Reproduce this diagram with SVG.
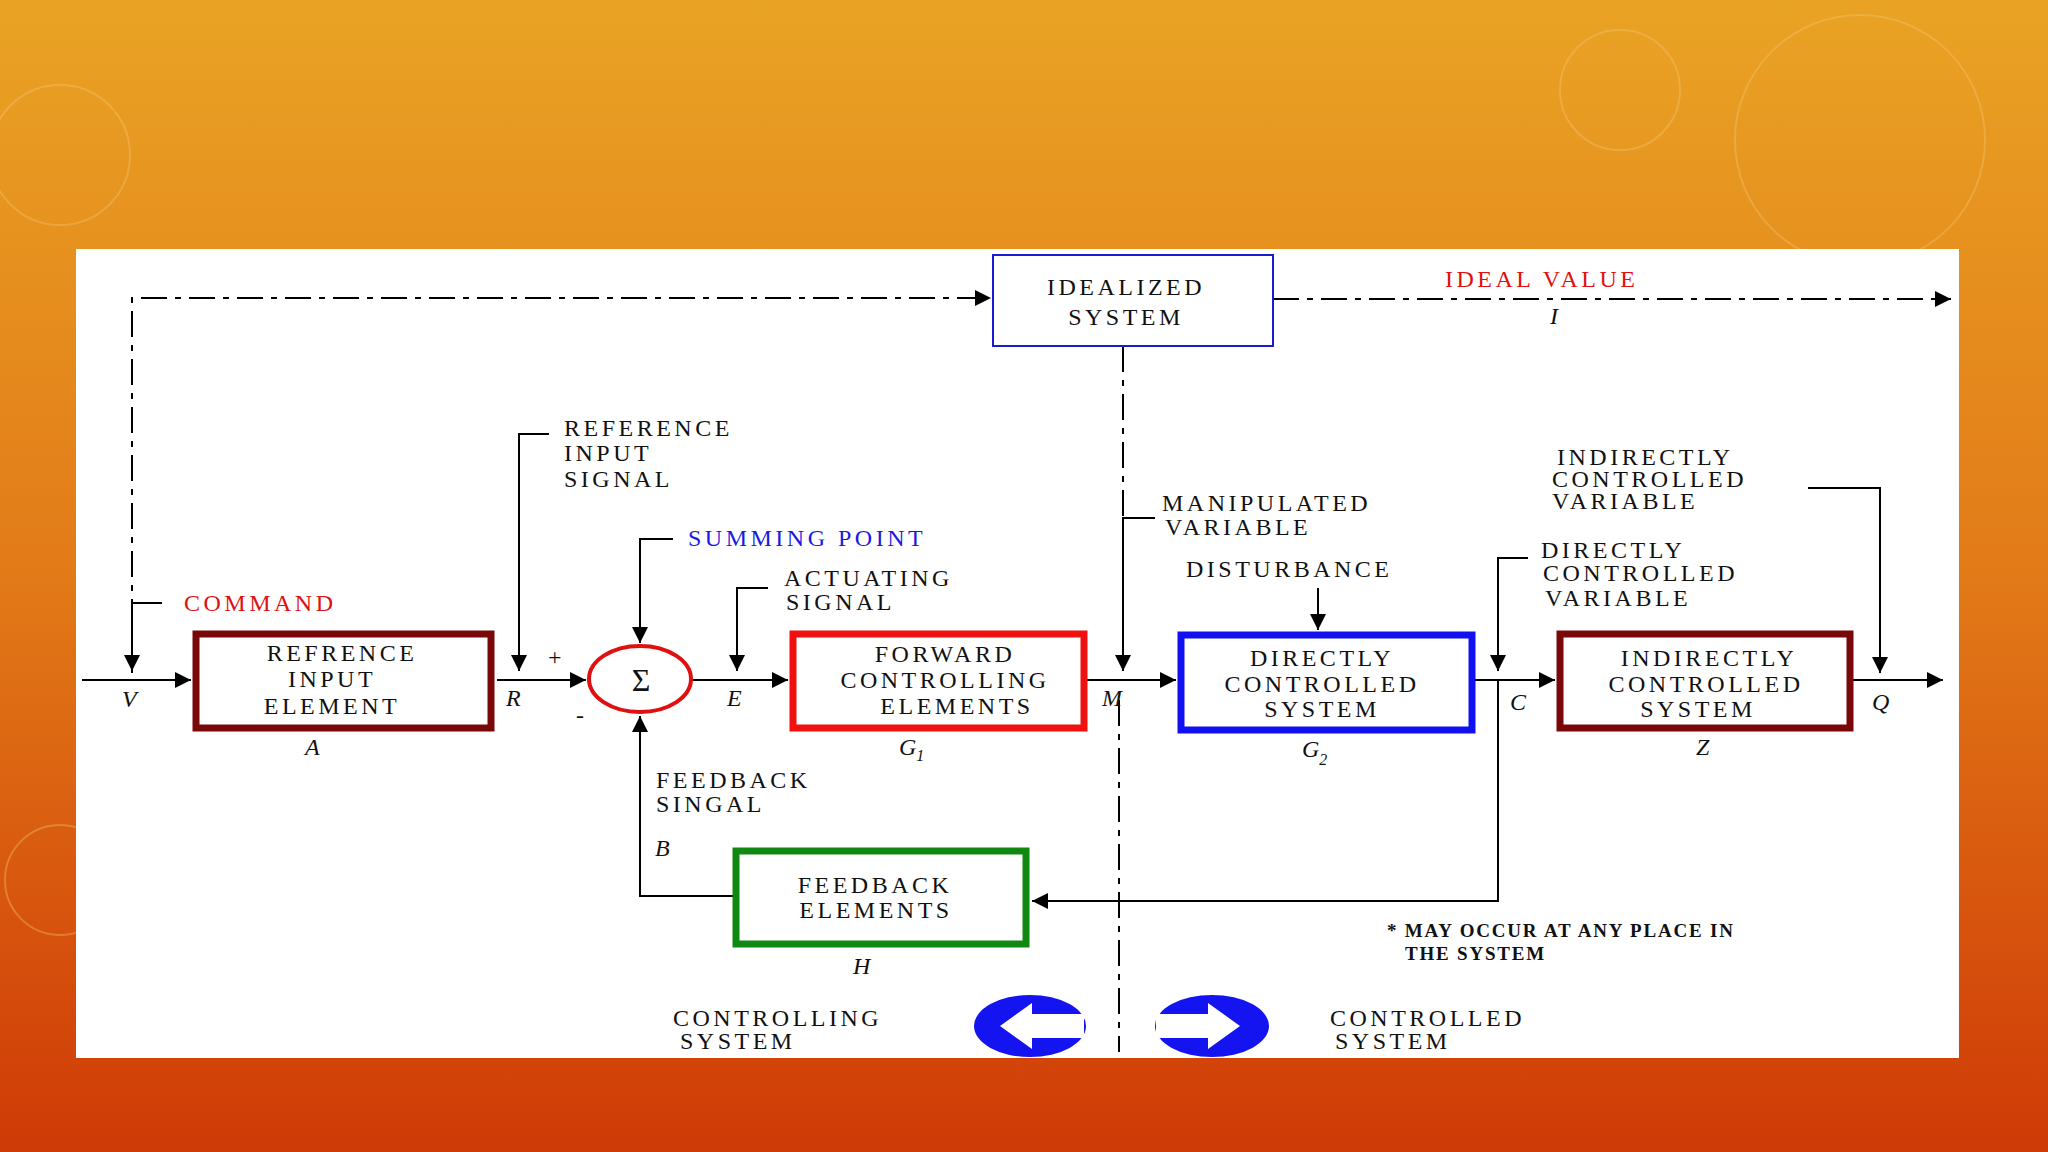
<svg xmlns="http://www.w3.org/2000/svg" width="2048" height="1152" viewBox="0 0 2048 1152">
<defs>
<linearGradient id="bg" x1="0" y1="0" x2="0" y2="1">
<stop offset="0" stop-color="#e9a324"/><stop offset="0.5" stop-color="#e27a18"/><stop offset="1" stop-color="#cf3a06"/>
</linearGradient>
<marker id="ab" viewBox="0 0 10 10" refX="10" refY="5" markerWidth="22" markerHeight="16" markerUnits="userSpaceOnUse" orient="auto"><path d="M0,0 L10,5 L0,10 z" fill="#000"/></marker>
<style>
text{font-family:"Liberation Serif","Times New Roman",serif;font-size:24px;fill:#111;letter-spacing:3.5px}
.c{text-anchor:middle}
.r{fill:#e01010}
.b{fill:#1a1ae0}
.i{font-style:italic;letter-spacing:0}
.s{font-size:19px;font-weight:bold;letter-spacing:1.8px}
.ln{fill:none;stroke:#000;stroke-width:2}
.dash{fill:none;stroke:#000;stroke-width:2;stroke-dasharray:26 8 6 8}
.box{fill:#fff;stroke-width:7}
</style>
</defs>
<rect width="2048" height="1152" fill="url(#bg)"/>
<g fill="none" stroke="#f6c878" stroke-opacity="0.35" stroke-width="2">
<circle cx="60" cy="155" r="70"/><circle cx="1860" cy="140" r="125"/><circle cx="1620" cy="90" r="60"/><circle cx="60" cy="880" r="55"/>
</g>
<rect x="76" y="249" width="1883" height="809" fill="#fff"/>

<g id="connectors">
<path class="dash" d="M132,673 L132,298 L991,298" marker-end="url(#ab)"/>
<path class="ln" d="M132,600 L132,671" marker-end="url(#ab)"/>
<path class="ln" d="M132,603 L162,603"/>
<path class="dash" d="M1273,299 L1951,299" marker-end="url(#ab)"/>
<path class="dash" d="M1123,346 L1123,660 M1119,700 L1119,1052"/>
<path class="ln" d="M82,680 L191,680" marker-end="url(#ab)"/>
<path class="ln" d="M497,680 L586,680" marker-end="url(#ab)"/>
<path class="ln" d="M549,434 L519,434 L519,671" marker-end="url(#ab)"/>
<path class="ln" d="M673,539 L640,539 L640,643" marker-end="url(#ab)"/>
<path class="ln" d="M768,588 L737,588 L737,671" marker-end="url(#ab)"/>
<path class="ln" d="M692,680 L788,680" marker-end="url(#ab)"/>
<path class="ln" d="M1087,680 L1176,680" marker-end="url(#ab)"/>
<path class="ln" d="M1155,518 L1123,518 L1123,671" marker-end="url(#ab)"/>
<path class="ln" d="M1318,588 L1318,630" marker-end="url(#ab)"/>
<path class="ln" d="M1475,680 L1555,680" marker-end="url(#ab)"/>
<path class="ln" d="M1528,558 L1498,558 L1498,671" marker-end="url(#ab)"/>
<path class="ln" d="M1498,680 L1498,901 L1032,901" marker-end="url(#ab)"/>
<path class="ln" d="M1853,680 L1943,680" marker-end="url(#ab)"/>
<path class="ln" d="M1808,488 L1880,488 L1880,673" marker-end="url(#ab)"/>
<path class="ln" d="M733,896 L640,896 L640,716" marker-end="url(#ab)"/>
</g>

<g id="idealized"><rect x="993" y="255" width="280" height="91" fill="#fff" stroke="#1a1ad0" stroke-width="2"/>
<text class="c" x="1126" y="295">IDEALIZED</text><text class="c" x="1126" y="325">SYSTEM</text></g>

<g id="A"><rect class="box" x="196" y="634" width="295" height="94" stroke="#7a0808"/>
<text class="c" x="342" y="661">REFRENCE</text><text class="c" x="332" y="687">INPUT</text><text class="c" x="332" y="714">ELEMENT</text>
<text class="i" x="305" y="755">A</text></g>

<g id="sum"><ellipse cx="640" cy="679" rx="51" ry="33" fill="#fff" stroke="#e01010" stroke-width="4"/>
<text class="c" x="641" y="691" style="font-size:32px;letter-spacing:0">Σ</text>
<text x="548" y="665" style="letter-spacing:0">+</text><text x="576" y="723" style="letter-spacing:0">-</text></g>

<g id="G1"><rect class="box" x="793" y="634" width="291" height="94" stroke="#f01010"/>
<text class="c" x="945" y="662">FORWARD</text><text class="c" x="945" y="688">CONTROLLING</text><text class="c" x="957" y="714">ELEMENTS</text>
<text class="i" x="899" y="755">G<tspan style="font-size:16px" dy="6">1</tspan></text></g>

<g id="G2"><rect class="box" x="1181" y="635" width="291" height="95" stroke="#1010f0"/>
<text class="c" x="1322" y="666">DIRECTLY</text><text class="c" x="1322" y="692">CONTROLLED</text><text class="c" x="1322" y="717">SYSTEM</text>
<text class="i" x="1302" y="757">G<tspan style="font-size:16px" dy="8">2</tspan></text></g>

<g id="Z"><rect class="box" x="1560" y="634" width="290" height="94" stroke="#7a0808"/>
<text class="c" x="1709" y="666">INDIRECTLY</text><text class="c" x="1706" y="692">CONTROLLED</text><text class="c" x="1698" y="717">SYSTEM</text>
<text class="i" x="1696" y="755">Z</text></g>

<g id="H"><rect class="box" x="736" y="851" width="290" height="93" stroke="#118811"/>
<text class="c" x="875" y="893">FEEDBACK</text><text class="c" x="876" y="918">ELEMENTS</text>
<text class="i" x="853" y="974">H</text></g>

<g id="labels">
<text x="564" y="436">REFERENCE</text><text x="564" y="461">INPUT</text><text x="564" y="487">SIGNAL</text>
<text class="b" x="688" y="546">SUMMING POINT</text>
<text x="784" y="586">ACTUATING</text><text x="786" y="610">SIGNAL</text>
<text class="r" x="184" y="611">COMMAND</text>
<text class="r" x="1445" y="287">IDEAL VALUE</text>
<text class="i" x="1550" y="324">I</text>
<text x="1162" y="511">MANIPULATED</text><text x="1165" y="535">VARIABLE</text>
<text x="1186" y="577">DISTURBANCE</text>
<text x="1557" y="465">INDIRECTLY</text><text x="1552" y="487">CONTROLLED</text><text x="1552" y="509">VARIABLE</text>
<text x="1541" y="558">DIRECTLY</text><text x="1543" y="581">CONTROLLED</text><text x="1545" y="606">VARIABLE</text>
<text x="656" y="788">FEEDBACK</text><text x="656" y="812">SINGAL</text>
<text class="i" x="655" y="856">B</text>
<text class="i" x="122" y="707">V</text><text class="i" x="506" y="706">R</text><text class="i" x="727" y="706">E</text>
<text class="i" x="1102" y="706">M</text><text class="i" x="1510" y="710">C</text><text class="i" x="1872" y="710">Q</text>
<text class="s" x="1387" y="937">* MAY OCCUR AT ANY PLACE IN</text><text class="s" x="1405" y="960">THE SYSTEM</text>
<text x="673" y="1026">CONTROLLING</text><text x="680" y="1049">SYSTEM</text>
<text x="1330" y="1026">CONTROLLED</text><text x="1335" y="1049">SYSTEM</text>
</g>

<g id="dir-arrows">
<ellipse cx="1030" cy="1026" rx="56" ry="31" fill="#1414f0"/>
<path d="M1000,1026 L1032,1003 L1032,1014 L1084,1014 L1084,1038 L1032,1038 L1032,1049 Z" fill="#fff"/>
<ellipse cx="1212" cy="1026" rx="57" ry="31" fill="#1414f0"/>
<path d="M1240,1026 L1208,1003 L1208,1014 L1156,1014 L1156,1038 L1208,1038 L1208,1049 Z" fill="#fff"/>
</g>
</svg>
